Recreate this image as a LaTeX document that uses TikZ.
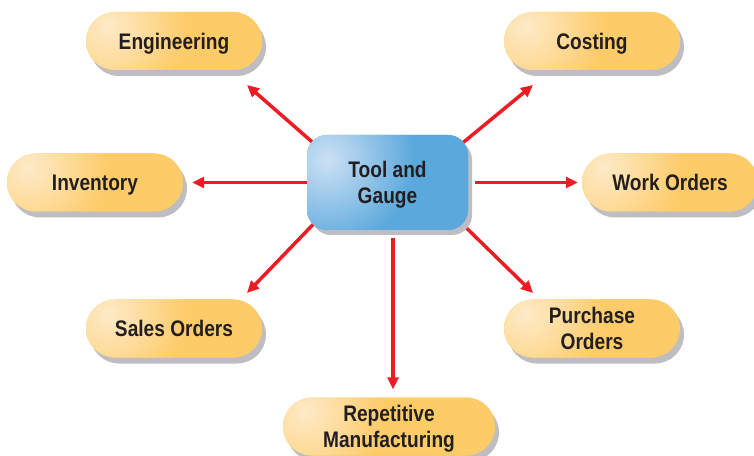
\documentclass[tikz,border=0pt]{standalone}
\usepackage{fontspec}
\newfontfamily\labelfont{Liberation Sans}[FakeStretch=0.85]
\usetikzlibrary{arrows.meta,calc,shadows,backgrounds}
\definecolor{pillcol}{RGB}{253,203,104}
\definecolor{pillhi}{RGB}{254,234,200}
\definecolor{boxcol}{RGB}{90,168,220}
\definecolor{boxhi}{RGB}{205,225,244}
\definecolor{shadecol}{RGB}{190,190,194}
\definecolor{arrcol}{RGB}{237,28,36}
\definecolor{textcol}{RGB}{35,31,32}
\pgfdeclareradialshading{pillglow}{\pgfpoint{0bp}{0bp}}{color(0bp)=(pillhi); color(10bp)=(pillcol); color(50bp)=(pillcol)}
\pgfdeclareradialshading{boxglow}{\pgfpoint{0bp}{0bp}}{color(0bp)=(boxhi); color(11bp)=(boxcol); color(50bp)=(boxcol)}
\tikzset{
  label text/.style={font=\labelfont\bfseries\fontsize{22.5}{26}\selectfont, text=textcol, align=center, text depth=0pt, inner sep=0pt},
  pill/.style={label text, rectangle, rounded corners=29pt, minimum width=176pt, minimum height=58pt, fill=pillcol,
    drop shadow={shadow xshift=4pt, shadow yshift=-6pt, fill=shadecol, opacity=1},
    path picture={\shade [shading=pillglow] ($(path picture bounding box.north west)+(22,-14)$) circle (200);}},
  tgbox/.style={label text, rectangle, rounded corners=20pt, minimum width=161pt, minimum height=95pt, fill=boxcol,
    drop shadow={shadow xshift=4pt, shadow yshift=-5pt, fill=shadecol, opacity=1},
    path picture={\shade [shading=boxglow] ($(path picture bounding box.north west)+(20,-25)$) circle (200);}},
  arr/.style={arrcol, line width=3.5pt, -{Triangle[length=12pt, width=11pt]}}
}
\begin{document}
\begin{tikzpicture}[x=1pt, y=1pt]
\useasboundingbox (0,0) rectangle (754,455);

\node [tgbox] (tg) at (387.5,272.5) {Tool and\\Gauge};

\node [pill] (eng) at (174,414) {Engineering};
\node [pill] (cost) at (592,414) {Costing};
\node [pill] (inv) at (95,272.5) {Inventory};
\node [pill] (wo) at (670,272.5) {Work Orders};
\node [pill] (sales) at (174,126.5) {Sales Orders};
\node [pill] (purch) at (592,126.5) {Purchase\\Orders};
\node [pill, minimum width=212pt] (rep) at (389,28.5) {Repetitive\\Manufacturing};

\coordinate (engtip) at (247,370);
\coordinate (costtip) at (533,370);
\coordinate (salestip) at (247,162);
\coordinate (purchtip) at (533,162);

\begin{scope}[on background layer]
\draw [arr] ($(tg.north west)+(20,-20)$) -- (engtip);
\draw [arr] ($(tg.north east)+(-20,-20)$) -- (costtip);
\draw [arr] ($(tg.south west)+(20,20)$) -- (salestip);
\draw [arr] ($(tg.south east)+(-20,20)$) -- (purchtip);
\draw [arr] (tg.west) -- ($(inv.east)+(9,0)$);
\draw [arr] ($(tg.east)+(7,0)$) -- ($(wo.west)+(-4,0)$);
\draw [arr] ($(tg.south)+(5.5,-8)$) -- ($(rep.north)+(4,8)$);
\end{scope}

\end{tikzpicture}
\end{document}
